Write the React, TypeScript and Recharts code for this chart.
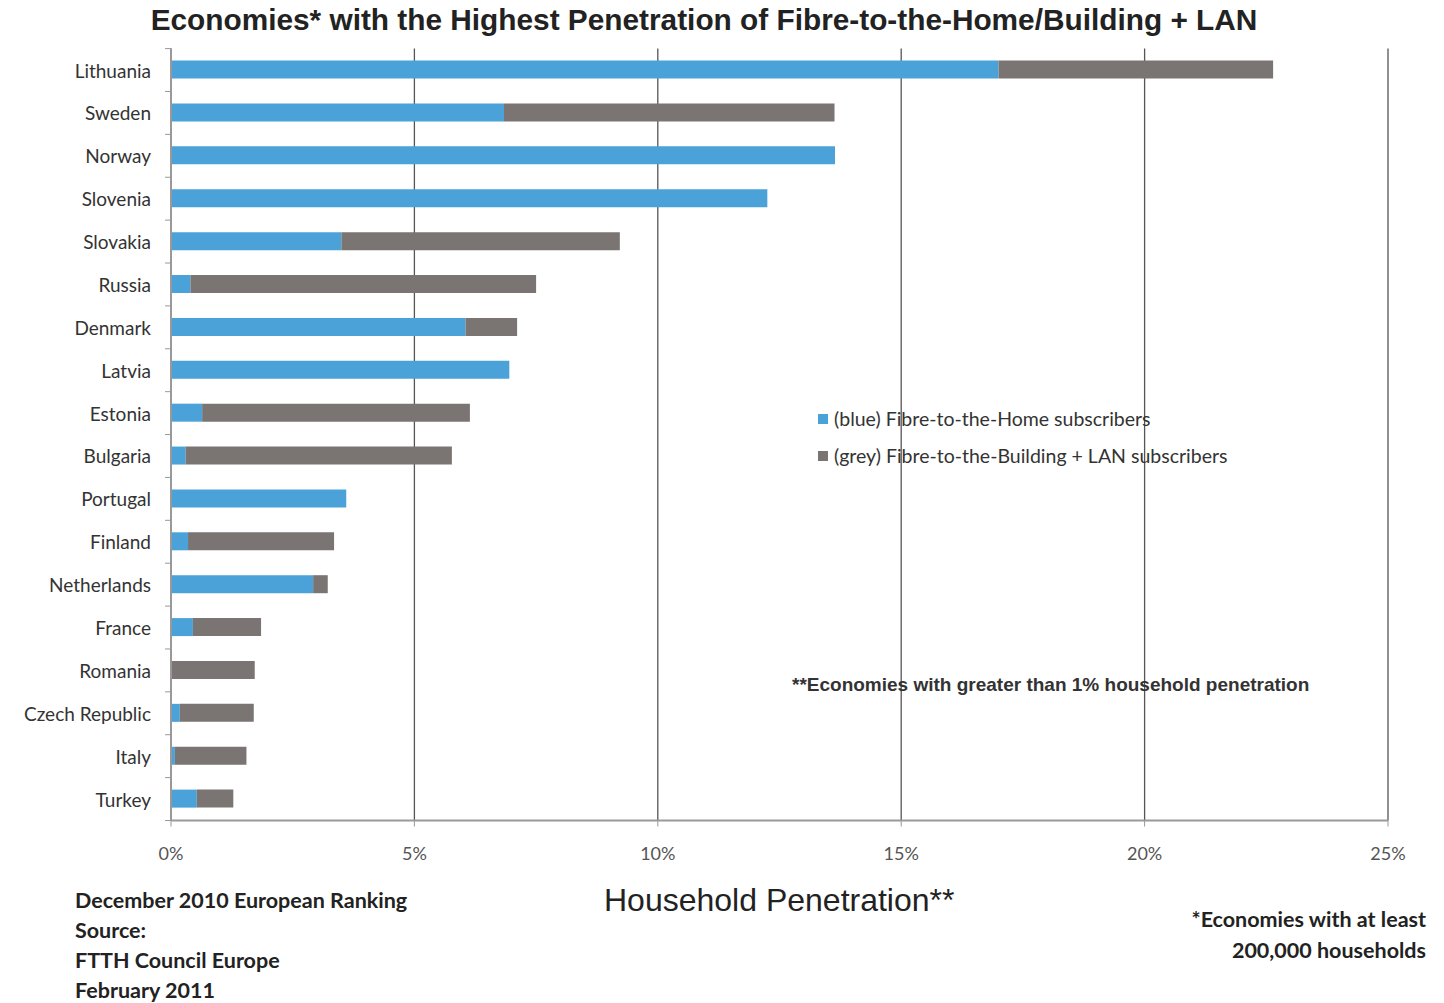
import React from 'react';
import { BarChart, Bar, XAxis, YAxis, CartesianGrid, Legend } from 'recharts';

const countries = [
  'Lithuania', 'Sweden', 'Norway', 'Slovenia', 'Slovakia', 'Russia', 'Denmark', 'Latvia', 'Estonia',
  'Bulgaria', 'Portugal', 'Finland', 'Netherlands', 'France', 'Romania', 'Czech Republic', 'Italy', 'Turkey',
];
// percentage of households
const ftthHome = [17.0, 6.84, 13.64, 12.25, 3.5, 0.4, 6.05, 6.95, 0.64, 0.3, 3.6, 0.35, 2.92, 0.45, 0, 0.18, 0.08, 0.53];
const fttbLan = [5.64, 6.79, 0, 0, 5.72, 7.1, 1.06, 0, 5.5, 5.47, 0, 3.0, 0.3, 1.4, 1.72, 1.52, 1.47, 0.75];
const xTicks = [0, 5, 10, 15, 20, 25];

const homeLabel = '(blue) Fibre-to-the-Home subscribers';
const lanLabel = '(grey) Fibre-to-the-Building + LAN subscribers';

const data = countries.map((country, i) => ({ country, home: ftthHome[i], lan: fttbLan[i] }));

const W = 1444;
const H = 1003;
const PLOT_TOP = 48.6;
const PLOT_BOTTOM = 820.5;
const PLOT_LEFT = 171;
const STEP = (PLOT_BOTTOM - PLOT_TOP) / countries.length;

const BLUE = '#4aa2d8';
const GREY = '#7a7472';
const calibri = 'Lato, "Open Sans", sans-serif';
const arial = '"Liberation Sans", Arial, sans-serif';

const CountryTick = (props: any) => {
  const { x, y, payload, index } = props;
  return (
    <g>
      <text x={x} y={y} textAnchor="end" dominantBaseline="central" fontFamily={calibri} fontSize={19} fill="#333">
        {payload.value}
      </text>
      <line x1={PLOT_LEFT - 6} x2={PLOT_LEFT} y1={y - STEP / 2} y2={y - STEP / 2} stroke="#999" />
      {index === countries.length - 1 && (
        <line x1={PLOT_LEFT - 6} x2={PLOT_LEFT} y1={y + STEP / 2} y2={y + STEP / 2} stroke="#999" />
      )}
    </g>
  );
};

const LegendBox = (props: any) => {
  const { payload } = props;
  return (
    <div>
      {(payload || []).map((p: any) => (
        <div key={p.value} style={{ display: 'flex', alignItems: 'center', height: 37, fontFamily: calibri, fontSize: 19.5, color: '#333' }}>
          <span style={{ width: 10, height: 10, background: p.color, marginRight: 6, display: 'inline-block' }} />
          {p.value}
        </div>
      ))}
    </div>
  );
};

export default function App() {
  return (
    <div style={{ position: 'absolute', left: 0, top: 0, width: W, height: H, background: '#fff', overflow: 'hidden' }}>
      <div style={{ position: 'absolute', left: 0, width: 1408, top: 3, textAlign: 'center', fontFamily: arial, fontWeight: 'bold', fontSize: 29.8, color: '#222' }}>
        Economies* with the Highest Penetration of Fibre-to-the-Home/Building + LAN
      </div>
      <BarChart
        width={W}
        height={H}
        data={data}
        layout="vertical"
        barSize={18}
        margin={{ top: PLOT_TOP, right: W - 1388, bottom: H - PLOT_BOTTOM - 30, left: PLOT_LEFT - 150 }}
      >
        <CartesianGrid horizontal={false} stroke="#555" strokeWidth={1.3} />
        <XAxis
          type="number"
          domain={[0, 25]}
          ticks={xTicks}
          tickFormatter={(v: number) => `${v}%`}
          axisLine={{ stroke: '#999', strokeWidth: 2 }}
          tickLine={{ stroke: '#999' }}
          tickSize={6}
          tickMargin={21}
          tick={{ fontFamily: calibri, fontSize: 18, fill: '#555' }}
          height={30}
        />
        <YAxis
          type="category"
          dataKey="country"
          width={150}
          axisLine={{ stroke: '#999', strokeWidth: 2 }}
          tickLine={false}
          tickMargin={14}
          tick={<CountryTick />}
          interval={0}
        />
        <Legend
          layout="vertical"
          align="center"
          verticalAlign="middle"
          content={<LegendBox />}
          wrapperStyle={{ position: 'absolute', left: 818, top: 400, width: 480 }}
        />
        <Bar dataKey="home" name={homeLabel} stackId="a" fill={BLUE} isAnimationActive={false} />
        <Bar dataKey="lan" name={lanLabel} stackId="a" fill={GREY} isAnimationActive={false} />
      </BarChart>
      <div style={{ position: 'absolute', left: 792, top: 674, fontFamily: arial, fontWeight: 'bold', fontSize: 19, color: '#333' }}>
        **Economies with greater than 1% household penetration
      </div>
      <div style={{ position: 'absolute', left: 604, top: 882, fontFamily: arial, fontSize: 32, color: '#222' }}>
        Household Penetration**
      </div>
      <div style={{ position: 'absolute', left: 75, top: 885, fontFamily: calibri, fontWeight: 'bold', fontSize: 21.5, color: '#222', lineHeight: '30px' }}>
        <div>December 2010 European Ranking</div>
        <div>Source:</div>
        <div>FTTH Council Europe</div>
        <div>February 2011</div>
      </div>
      <div style={{ position: 'absolute', right: 18, top: 904, fontFamily: calibri, fontWeight: 'bold', fontSize: 21.5, color: '#222', lineHeight: '31px', textAlign: 'right' }}>
        <div>*Economies with at least</div>
        <div>200,000 households</div>
      </div>
    </div>
  );
}
